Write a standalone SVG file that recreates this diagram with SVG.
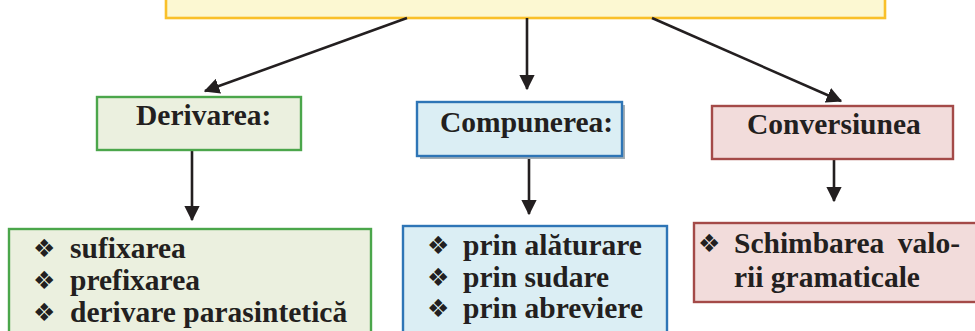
<svg xmlns="http://www.w3.org/2000/svg" width="975" height="331" viewBox="0 0 975 331">
<defs>
<marker id="ah" markerWidth="6" markerHeight="6" refX="5.5" refY="3" orient="auto" markerUnits="strokeWidth">
<path d="M0,0 L6,3 L0,6 Z" fill="#231f20"/>
</marker>
<style>
.t{font-family:"Liberation Serif","Times New Roman",serif;font-weight:bold;font-size:29.5px;fill:#231f20}
.b{font-family:"DejaVu Sans",sans-serif;font-size:25px;fill:#231f20}
.c{stroke:#231f20;stroke-width:2.6;fill:none;marker-end:url(#ah)}
.g{fill:#ebf0df;stroke:#4ba64b;stroke-width:2.4}
.bl{fill:#dbeef4;stroke:#2e75b6;stroke-width:2.4}
.r{fill:#f2dcdb;stroke:#a44a48;stroke-width:2.4}
</style>
</defs>
<rect width="975" height="331" fill="#ffffff"/>
<g id="root">
<rect x="166" y="-30" width="719" height="48" fill="#fcf8d2" stroke="#f9c02a" stroke-width="2.6"/>
</g>
<g id="connectors">
<line class="c" x1="407" y1="18" x2="205" y2="91"/>
<line class="c" x1="527" y1="18" x2="527" y2="89"/>
<line class="c" x1="652" y1="18" x2="841" y2="101"/>
<line class="c" x1="192" y1="151" x2="192" y2="220"/>
<line class="c" x1="529" y1="157" x2="529" y2="214"/>
<line class="c" x1="834" y1="160" x2="834" y2="201"/>
</g>
<g id="derivarea">
<rect class="g" x="97" y="97" width="204" height="53"/>
<text class="t" x="136" y="125">Derivarea:</text>
</g>
<g id="compunerea">
<rect x="420" y="105" width="205" height="54" fill="#a4aeb4"/>
<rect class="bl" x="417" y="102" width="205" height="54"/>
<text class="t" x="440" y="132">Compunerea:</text>
</g>
<g id="conversiunea">
<rect class="r" x="712" y="106" width="241" height="53"/>
<text class="t" x="747" y="134">Conversiunea</text>
</g>
<g id="derivarea-list">
<rect class="g" x="9" y="229" width="362" height="120"/>
<text class="b" x="33" y="257">❖</text>
<text class="b" x="33" y="289">❖</text>
<text class="b" x="33" y="321">❖</text>
<text class="t" x="70" y="258">sufixarea</text>
<text class="t" x="70" y="290">prefixarea</text>
<text class="t" x="70" y="322">derivare parasintetică</text>
</g>
<g id="compunerea-list">
<rect class="bl" x="403" y="226" width="264" height="120"/>
<text class="b" x="427" y="254">❖</text>
<text class="b" x="427" y="286">❖</text>
<text class="b" x="427" y="317">❖</text>
<text class="t" x="463" y="255">prin alăturare</text>
<text class="t" x="463" y="287">prin sudare</text>
<text class="t" x="463" y="318">prin abreviere</text>
</g>
<g id="conversiunea-list">
<rect class="r" x="694" y="223" width="300" height="79"/>
<text class="b" x="698" y="252">❖</text>
<text class="t" x="734" y="253">Schimbarea</text>
<text class="t" x="960" y="253" text-anchor="end">valo-</text>
<text class="t" x="734" y="287">rii gramaticale</text>
</g>
</svg>
